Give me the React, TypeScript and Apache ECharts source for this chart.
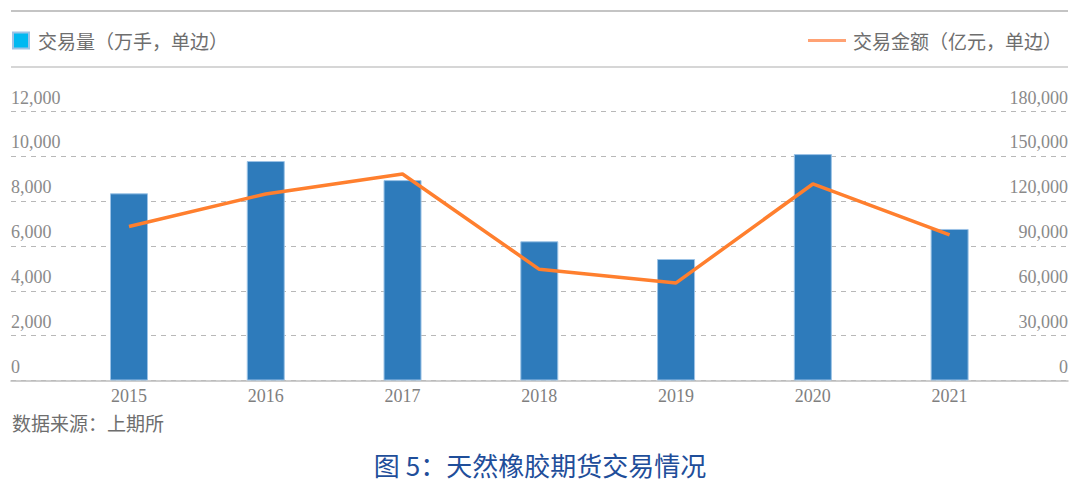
import React, { useEffect, useRef } from "react";
import * as echarts from "echarts";

const years = ["2015", "2016", "2017", "2018", "2019", "2020", "2021"];
const volume = [8350, 9790, 8940, 6210, 5420, 10100, 6760];
const turnover = [103000, 124800, 138200, 74400, 65300, 131500, 97400];
const volumeName = "交易量（万手，单边）";
const turnoverName = "交易金额（亿元，单边）";
const sourceText = "数据来源：上期所";
const titleText = "图 5：天然橡胶期货交易情况";

const SERIF = "'Liberation Serif', 'DejaVu Serif', serif";
const CJK = "'Noto Sans CJK SC', sans-serif";

export default function App() {
  const ref = useRef<HTMLDivElement>(null);
  useEffect(() => {
    if (!ref.current) return;
    const chart = echarts.init(ref.current, undefined, { renderer: "svg" });
    const top = 111.5;
    const bottom = 489 - 380.5;
    const dash = { color: "#b8b8b8", width: 1, type: [5, 5] as any };
    chart.setOption({
      animation: false,
      backgroundColor: "#fff",
      legend: [
        {
          left: 7,
          top: 26,
          icon: "rect",
          itemWidth: 16,
          itemHeight: 16,
          data: [{ name: volumeName, itemStyle: { color: "#00b9f1" } }],
          textStyle: { fontFamily: CJK, fontSize: 19, color: "#6e6e6e", padding: [0, 0, 0, 4] },
        },
        {
          right: 13,
          top: 26,
          icon: "rect",
          itemWidth: 38,
          itemHeight: 3,
          data: [{ name: turnoverName, itemStyle: { color: "#ffa274" } }],
          textStyle: { fontFamily: CJK, fontSize: 19, color: "#6e6e6e", padding: [0, 0, 0, 2] },
        },
      ],
      graphic: [
        { type: "line", shape: { x1: 11, y1: 11, x2: 1068, y2: 11 }, style: { stroke: "#b0b0b0", lineWidth: 1.5 } },
        { type: "line", shape: { x1: 11, y1: 67, x2: 1068, y2: 67 }, style: { stroke: "#c8c8c8", lineWidth: 1.5 } },
        {
          type: "text",
          left: 12,
          top: 413,
          style: { text: sourceText, fontFamily: CJK, fontSize: 19, fill: "#6e6e6e" },
        },
        {
          type: "text",
          left: "center",
          top: 451,
          style: { text: titleText, fontFamily: CJK, fontSize: 26, fill: "#1f4e9a" },
        },
      ],
      grid: [
        { left: 11, right: 12, top, bottom },
        { left: 60.6, right: 62, top, bottom },
      ],
      xAxis: [
        {
          gridIndex: 0,
          type: "value",
          min: 0,
          max: 1,
          axisLine: { show: true, lineStyle: { color: "#bdbdbd", width: 1.5 } },
          axisTick: { show: false },
          axisLabel: { show: false },
          splitLine: { show: false },
        },
        {
          gridIndex: 1,
          type: "category",
          data: years,
          axisLine: { show: false },
          axisTick: { show: false },
          axisLabel: { margin: 6, fontFamily: SERIF, fontSize: 18, color: "#7f7f7f" },
        },
      ],
      yAxis: [
        {
          gridIndex: 0,
          type: "value",
          position: "left",
          min: 0,
          max: 12000,
          interval: 2000,
          axisLine: { show: false },
          axisTick: { show: false },
          splitLine: { show: true, lineStyle: dash },
          axisLabel: {
            inside: true,
            margin: 0,
            verticalAlign: "bottom",
            padding: [0, 0, 5, 0],
            fontFamily: SERIF,
            fontSize: 18,
            color: "#8a8a8a",
            formatter: (v: number) => v.toLocaleString("en-US"),
          },
        },
        {
          gridIndex: 0,
          type: "value",
          position: "right",
          min: 0,
          max: 180000,
          interval: 30000,
          axisLine: { show: false },
          axisTick: { show: false },
          splitLine: { show: false },
          axisLabel: {
            inside: true,
            margin: 0,
            verticalAlign: "bottom",
            padding: [0, 0, 5, 0],
            fontFamily: SERIF,
            fontSize: 18,
            color: "#8a8a8a",
            formatter: (v: number) => v.toLocaleString("en-US"),
          },
        },
        { gridIndex: 1, type: "value", min: 0, max: 12000, show: false, splitLine: { show: false } },
        { gridIndex: 1, type: "value", min: 0, max: 180000, show: false, splitLine: { show: false } },
      ],
      series: [
        {
          name: volumeName,
          type: "bar",
          xAxisIndex: 1,
          yAxisIndex: 2,
          data: volume,
          barWidth: 38,
          itemStyle: { color: "#2e7bbb", borderColor: "#9cc3e6", borderWidth: 1 },
        },
        {
          name: turnoverName,
          type: "line",
          xAxisIndex: 1,
          yAxisIndex: 3,
          data: turnover,
          symbol: "none",
          lineStyle: { color: "#ff7f2e", width: 3.5 },
          itemStyle: { color: "#ff7f2e" },
        },
      ],
    });
    return () => chart.dispose();
  }, []);
  return (
    <div
      ref={ref}
      style={{ position: "fixed", left: 0, top: 0, width: 1080, height: 489 }}
    />
  );
}
